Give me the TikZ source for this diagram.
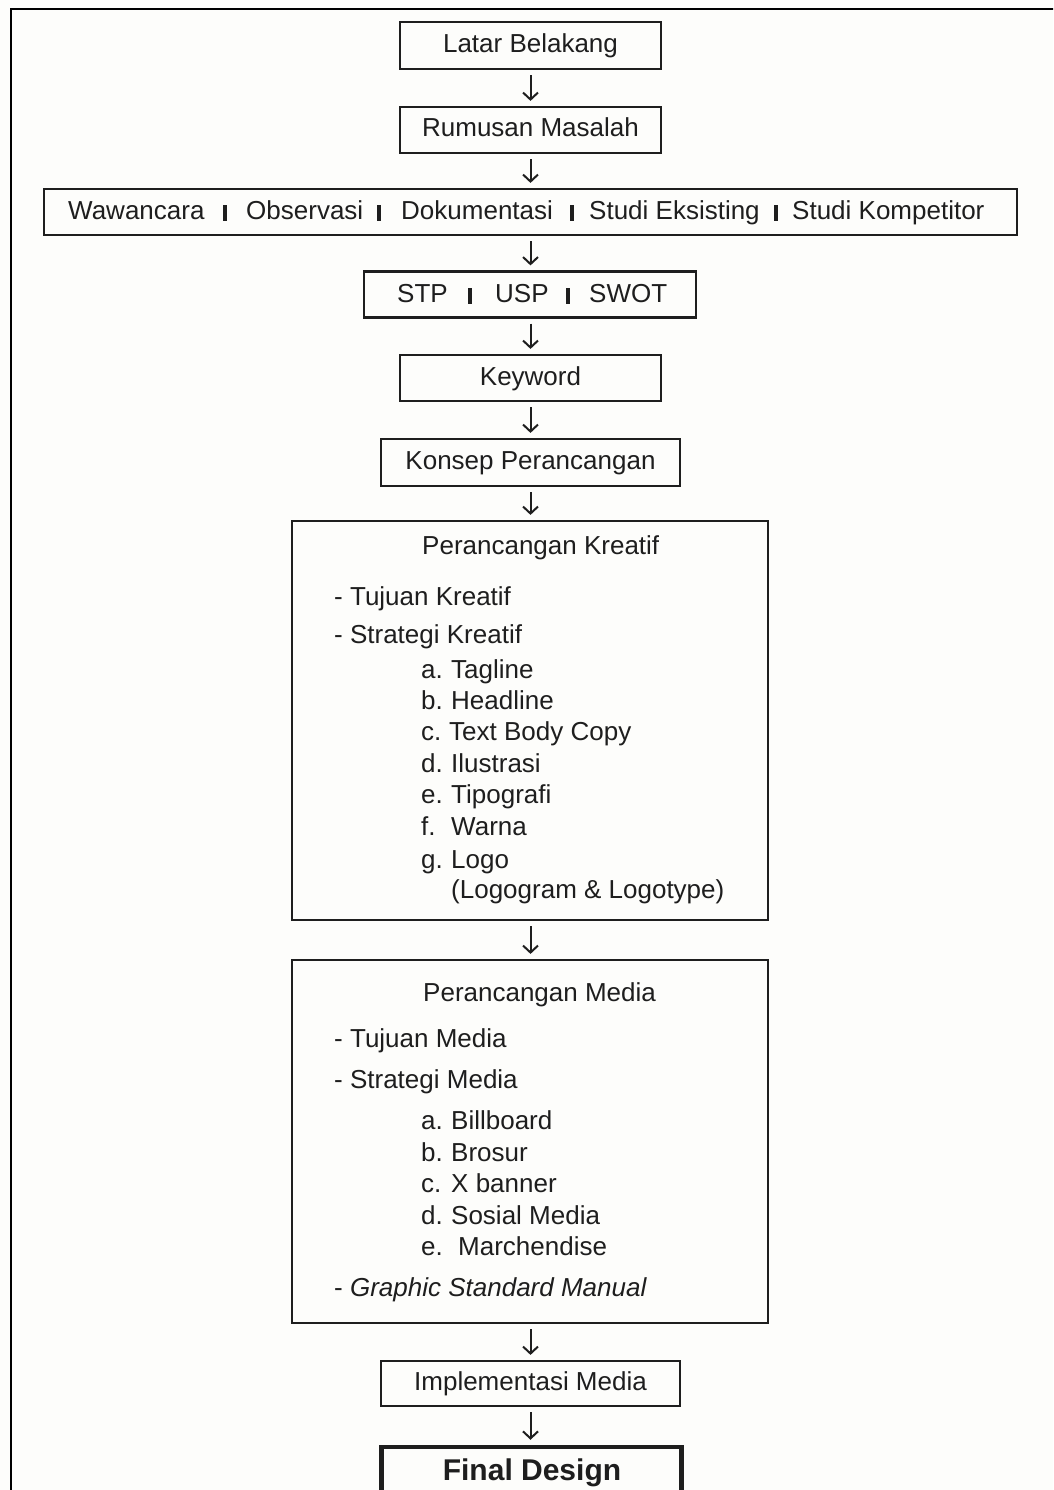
\documentclass[tikz,border=0pt]{standalone}
\usepackage{fontspec}
\setmainfont{Liberation Sans}
\usetikzlibrary{arrows.meta}
\definecolor{ink}{HTML}{1E1E1E}
\definecolor{paper}{HTML}{FDFDFB}
\begin{document}
\begin{tikzpicture}[x=1pt,y=-1pt,
  flowbox/.style={draw=ink, line width=2.2pt, inner sep=0pt, text=ink,
    font=\fontsize{26}{31}\selectfont, text height=18.6pt, text depth=4.6pt},
  txt/.style={anchor=base west, inner sep=0pt, text=ink, font=\fontsize{26}{31}\selectfont},
  sepbar/.style={fill=ink, draw=none, inner sep=0pt, outer sep=0pt, text height=0pt, text depth=0pt,
    minimum width=3.4pt, minimum height=16pt, anchor=south},
  flow/.style={draw=ink, line width=2pt, -{Straight Barb[length=7pt,width=15pt]}, shorten >=5pt, shorten <=5pt}
]
\useasboundingbox (0,0) rectangle (1053,1490);
\clip (0,0) rectangle (1053,1490);
\fill[paper] (0,0) rectangle (1053,1490);
\draw[black, line width=2pt] (11,1500) -- (11,9) -- (1060,9);

% boxes
\node[flowbox, minimum width=261pt, minimum height=47pt] (latar) at (530.5,45.5) {Latar Belakang};
\node[flowbox, minimum width=261pt, minimum height=46pt] (rumusan) at (530.5,130) {Rumusan Masalah};
\node[flowbox, minimum width=973pt, minimum height=46pt] (data) at (530.5,212) {};
\node[flowbox, minimum width=332pt, minimum height=46pt] (analisis) at (530,294.5) {};
\node[flowbox, minimum width=261pt, minimum height=46pt] (keyword) at (530.5,378) {Keyword};
\node[flowbox, minimum width=299pt, minimum height=47pt] (konsep) at (530.5,462.5) {Konsep Perancangan};
\node[flowbox, minimum width=476pt, minimum height=399pt] (kreatif) at (530,720.5) {};
\node[flowbox, minimum width=476pt, minimum height=363pt] (media) at (530,1141.5) {};
\node[flowbox, minimum width=299pt, minimum height=45pt] (implementasi) at (530.5,1383.5) {Implementasi Media};
\node[draw=ink, line width=4.5pt, minimum width=300pt, minimum height=90pt, inner sep=0pt] (final) at (531.5,1492) {};
\node[anchor=base, inner sep=0pt, text=ink, font=\bfseries\fontsize{30}{36}\selectfont] (finaltxt) at (532,1480) {Final Design};

% data collection row
\node[txt] (w1) at (68,219) {Wawancara};
\node[sepbar] (b1) at (225,221) {};
\node[txt] (w2) at (246,219) {Observasi};
\node[sepbar] (b2) at (379,221) {};
\node[txt] (w3) at (401,219) {Dokumentasi};
\node[sepbar] (b3) at (572,221) {};
\node[txt] (w4) at (589,219) {Studi Eksisting};
\node[sepbar] (b4) at (776,221) {};
\node[txt] (w5) at (792,219) {Studi Kompetitor};

% analysis row
\node[txt] (s1) at (397,302) {STP};
\node[sepbar] (sb1) at (470,304) {};
\node[txt] (s2) at (495,302) {USP};
\node[sepbar] (sb2) at (568,304) {};
\node[txt] (s3) at (589,302) {SWOT};

% creative design
\node[txt] (k0) at (422,554) {Perancangan Kreatif};
\node[txt] (k1) at (334,605) {- Tujuan Kreatif};
\node[txt] (k2) at (334,643) {- Strategi Kreatif};
\node[txt] (ka) at (421,678) {\makebox[30pt][l]{a.}Tagline};
\node[txt] (kb) at (421,709) {\makebox[30pt][l]{b.}Headline};
\node[txt] (kc) at (421,740) {\makebox[28pt][l]{c.}Text Body Copy};
\node[txt] (kd) at (421,772) {\makebox[30pt][l]{d.}Ilustrasi};
\node[txt] (ke) at (421,803) {\makebox[30pt][l]{e.}Tipografi};
\node[txt] (kf) at (421,835) {\makebox[30pt][l]{f.}Warna};
\node[txt] (kg) at (421,868) {\makebox[30pt][l]{g.}Logo};
\node[txt] (kh) at (451,898) {(Logogram \& Logotype)};

% media design
\node[txt] (m0) at (423,1001) {Perancangan Media};
\node[txt] (m1) at (334,1047) {- Tujuan Media};
\node[txt] (m2) at (334,1088) {- Strategi Media};
\node[txt] (ma) at (421,1129) {\makebox[30pt][l]{a.}Billboard};
\node[txt] (mb) at (421,1161) {\makebox[30pt][l]{b.}Brosur};
\node[txt] (mc) at (421,1192) {\makebox[30pt][l]{c.}X banner};
\node[txt] (md) at (421,1224) {\makebox[30pt][l]{d.}Sosial Media};
\node[txt] (me) at (421,1255) {\makebox[37pt][l]{e.}Marchendise};
\node[txt] (mg) at (334,1296) {- \textit{Graphic Standard Manual}};

% connectors
\draw[flow] (latar.south) -- (latar.south |- rumusan.north);
\draw[flow] (rumusan.south) -- (rumusan.south |- data.north);
\draw[flow] (rumusan.south |- data.south) -- (rumusan.south |- analisis.north);
\draw[flow] (rumusan.south |- analisis.south) -- (rumusan.south |- keyword.north);
\draw[flow] (keyword.south) -- (keyword.south |- konsep.north);
\draw[flow] (keyword.south |- konsep.south) -- (keyword.south |- kreatif.north);
\draw[flow] (keyword.south |- kreatif.south) -- (keyword.south |- media.north);
\draw[flow] (keyword.south |- media.south) -- (keyword.south |- implementasi.north);
\draw[flow] (keyword.south |- implementasi.south) -- (keyword.south |- final.north);
\end{tikzpicture}
\end{document}
